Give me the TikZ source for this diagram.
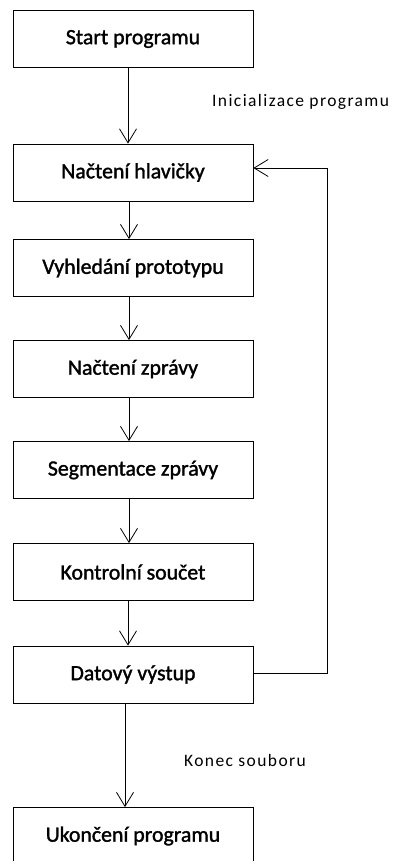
\documentclass[tikz,border=0pt]{standalone}
\usepackage{fontspec}
\setmainfont{Carlito}
\newfontfamily\boxfont[FakeBold=1.5]{Carlito}
\newfontfamily\lblfont[LetterSpace=8]{Carlito}
\usetikzlibrary{arrows.meta}
\tikzset{
  stepbox/.style={draw, line width=0.8pt, minimum width=240pt, minimum height=57pt,
    inner sep=0pt, font=\boxfont\fontsize{21.8}{26}\selectfont},
  arr/.style={line width=0.8pt, -{Straight Barb[length=14pt,width=17pt,line width=0.8pt]}},
  lbl/.style={font=\lblfont\fontsize{17.5}{20}\selectfont, inner sep=0pt}
}
\begin{document}
\begin{tikzpicture}[x=1pt,y=-1pt]
  \useasboundingbox (0,0) rectangle (396,861);
  \clip (0,0) rectangle (396,861);
  % process steps
  \node[stepbox] (a) at (133,39)    {Start programu};
  \node[stepbox] (b) at (133,172.5) {Načtení hlavičky};
  \node[stepbox] (c) at (133,268)   {Vyhledání prototypu};
  \node[stepbox] (d) at (133,369)   {Načtení zprávy};
  \node[stepbox] (e) at (133,470)   {Segmentace zprávy};
  \node[stepbox] (f) at (133,572)   {Kontrolní součet};
  \node[stepbox] (g) at (133,674.5) {Datový výstup};
  \node[stepbox] (h) at (133,836)   {Ukončení programu};
  % flow
  \draw[arr] ([xshift=-5pt]a.south) -- ([xshift=-5pt]b.north);
  \draw[arr] ([xshift=-4pt]b.south) -- ([xshift=-4pt]c.north);
  \draw[arr] ([xshift=-4pt]c.south) -- ([xshift=-4pt]d.north);
  \draw[arr] ([xshift=-4pt]d.south) -- ([xshift=-4pt]e.north);
  \draw[arr] ([xshift=-4pt]e.south) -- ([xshift=-4pt]f.north);
  \draw[arr] ([xshift=-5pt]f.south) -- ([xshift=-5pt]g.north);
  \draw[arr] ([xshift=-8pt]g.south) -- ([xshift=-8pt]h.north);
  % loop back to the header read
  \coordinate (gout) at ([yshift=1.5pt]g.east);
  \coordinate (bin) at ([yshift=4.5pt]b.east);
  \coordinate (r) at (327,0);
  \draw[arr] (gout) -| (r |- bin) -- (bin);
  % transition labels
  \node[lbl, anchor=west] (l1) at (212,102) {Inicializace programu};
  \node[lbl, anchor=west] (l2) at (184,760) {Konec souboru};
\end{tikzpicture}
\end{document}
